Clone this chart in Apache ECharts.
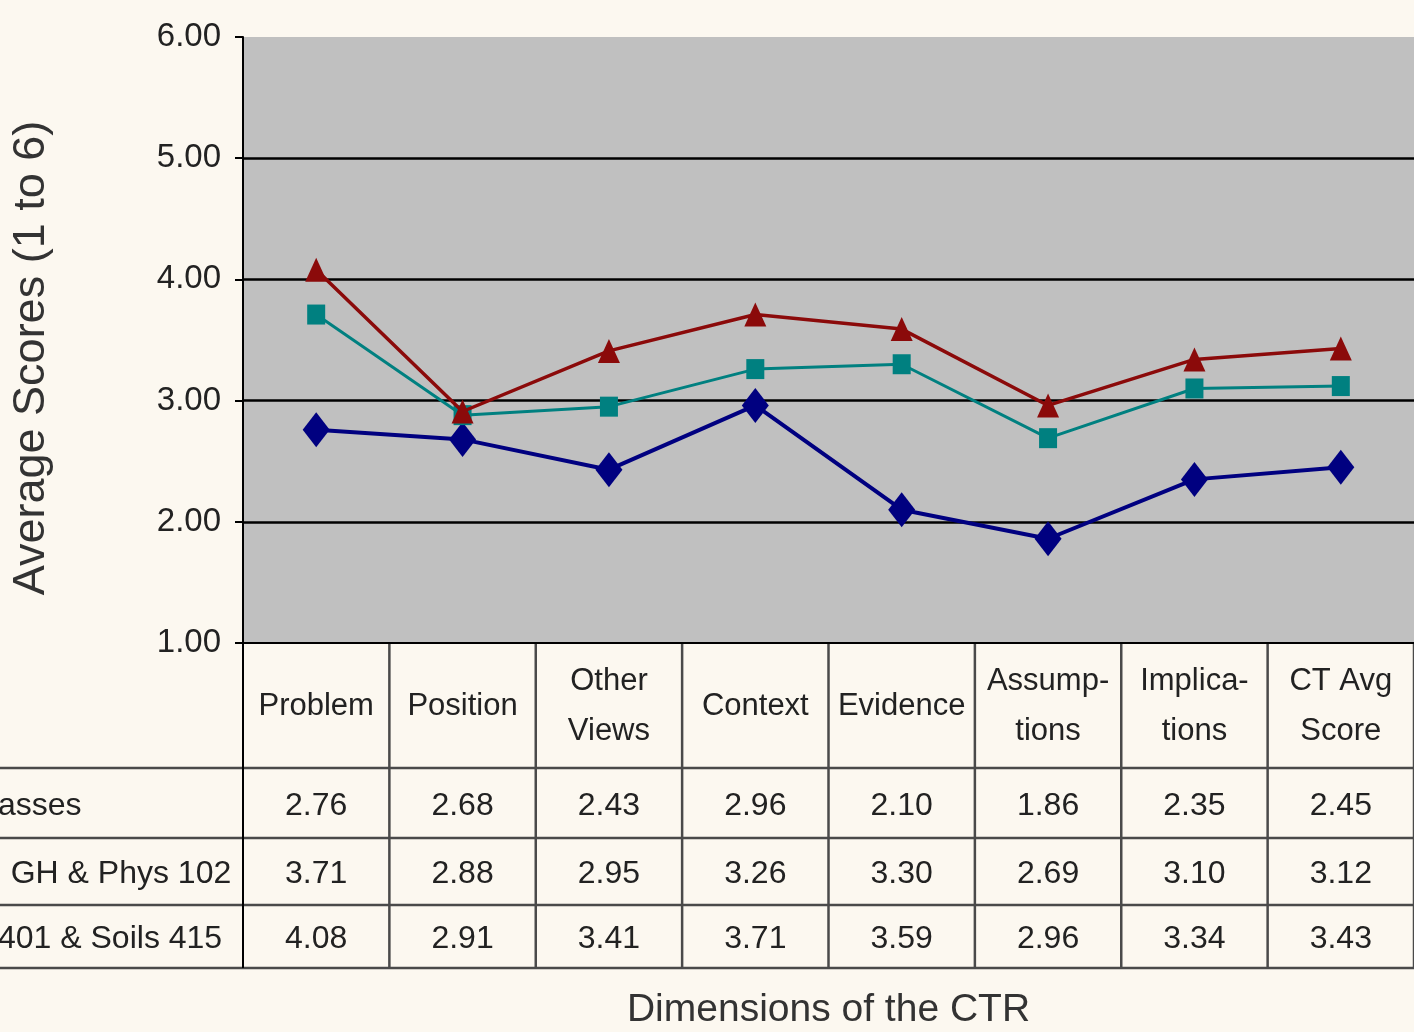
<!DOCTYPE html>
<html>
<head>
<meta charset="utf-8">
<script src="https://cdn.jsdelivr.net/npm/echarts@6/dist/echarts.min.js"></script>
<style>
html,body{margin:0;padding:0;background:#fcf8f0;}
#main{width:1414px;height:1032px;}
</style>
</head>
<body>
<div id="main"></div>
<script>
var categories = ["Problem", "Position", "Other\nViews", "Context", "Evidence", "Assump-\ntions", "Implica-\ntions", "CT Avg\nScore"];
var seriesNames = ["asses", "d GH & Phys 102", "401 & Soils 415"];
var seriesA = [2.76, 2.68, 2.43, 2.96, 2.10, 1.86, 2.35, 2.45];
var seriesB = [3.71, 2.88, 2.95, 3.26, 3.30, 2.69, 3.10, 3.12];
var seriesC = [4.08, 2.91, 3.41, 3.71, 3.59, 2.96, 3.34, 3.43];
var yTicks = [1, 2, 3, 4, 5, 6];
var yTitle = "Average Scores (1 to 6)";
var xTitle = "Dimensions of the CTR";

var FONT = "'Liberation Sans', Arial, sans-serif";
var chart = echarts.init(document.getElementById('main'), null, {renderer: 'canvas'});
var allSeries = [seriesA, seriesB, seriesC];
var colors = ['#000080', '#008080', '#8b0a0a'];
var symbols = ['diamond', 'rect', 'triangle'];
var symSizes = [[27, 35], [18, 20], [22, 24]];
var lineWidths = [4, 3, 3.5];

chart.setOption({
  backgroundColor: '#fcf8f0',
  animation: false,
  grid: {left: 243, right: 0, top: 37, height: 606, show: true, backgroundColor: '#c0c0c0', borderWidth: 0, containLabel: false, outerBoundsMode: 'none'},
  xAxis: {
    type: 'category',
    data: categories,
    boundaryGap: true,
    axisLine: {lineStyle: {color: '#000', width: 2}},
    axisTick: {show: false},
    axisLabel: {
      margin: 63, verticalAlign: 'middle', lineHeight: 50,
      fontFamily: FONT, fontSize: 31, color: '#222', interval: 0
    },
    splitLine: {show: false}
  },
  yAxis: {
    type: 'value',
    min: yTicks[0], max: yTicks[yTicks.length - 1], interval: 1,
    axisLine: {show: true, lineStyle: {color: '#000', width: 2}},
    axisTick: {show: true, length: 8, lineStyle: {color: '#000', width: 2}},
    axisLabel: {
      margin: 22, fontFamily: FONT, fontSize: 33, color: '#222',
      formatter: function (v) { return v.toFixed(2); }
    },
    splitLine: {show: true, showMaxLine: false, showMinLine: false, lineStyle: {color: '#000', width: 2.5}}
  },
  series: allSeries.map(function (d, i) {
    return {
      name: seriesNames[i],
      type: 'line',
      data: d,
      symbol: symbols[i],
      symbolSize: symSizes[i],
      lineStyle: {color: colors[i], width: lineWidths[i]},
      itemStyle: {color: colors[i]},
      z: 3 + i
    };
  })
});

// Build the data table below the plot
function buildTable() {
  var centers = categories.map(function (c, i) { return chart.convertToPixel({xAxisIndex: 0}, i); });
  var band = centers.length > 1 ? centers[1] - centers[0] : 146;
  var x0 = centers[0] - band / 2;
  var xEnd = centers[centers.length - 1] + band / 2;
  var top = chart.convertToPixel({yAxisIndex: 0}, yTicks[0]);
  var rowLines = [top + 125, top + 195, top + 262, top + 325];
  var g = [];
  var lineStyle = {stroke: '#4a4a4a', lineWidth: 2.5};
  rowLines.forEach(function (y) {
    g.push({type: 'line', shape: {x1: 0, y1: y, x2: 1414, y2: y}, style: lineStyle, silent: true});
  });
  for (var i = 0; i <= categories.length; i++) {
    var x = x0 + i * band;
    g.push({type: 'line', shape: {x1: x, y1: top, x2: x, y2: rowLines[3]}, style: {stroke: i === 0 ? '#000' : '#4a4a4a', lineWidth: i === 0 ? 2 : 2.5}, silent: true});
  }
  allSeries.forEach(function (d, r) {
    var yc = (rowLines[r] + rowLines[r + 1]) / 2 + 3;
    g.push({type: 'text', x: r === 1 ? -16 : -2, y: yc, style: {text: seriesNames[r], fontFamily: FONT, fontSize: 32, fill: '#222', textAlign: 'left', textVerticalAlign: 'middle'}, silent: true});
    d.forEach(function (v, i) {
      g.push({type: 'text', x: centers[i], y: yc, style: {text: v.toFixed(2), fontFamily: FONT, fontSize: 32, fill: '#222', textAlign: 'center', textVerticalAlign: 'middle'}, silent: true});
    });
  });
  // axis titles
  var yMid = (chart.convertToPixel({yAxisIndex: 0}, yTicks[0]) + chart.convertToPixel({yAxisIndex: 0}, yTicks[yTicks.length - 1])) / 2 + 18;
  g.push({type: 'text', x: 32, y: yMid, rotation: Math.PI / 2, style: {text: yTitle, fontFamily: FONT, fontSize: 45, fill: '#333', textAlign: 'center', textVerticalAlign: 'middle'}, silent: true});
  g.push({type: 'text', x: (x0 + xEnd) / 2, y: 1010, style: {text: xTitle, fontFamily: FONT, fontSize: 39, fill: '#333', textAlign: 'center', textVerticalAlign: 'middle'}, silent: true});
  chart.setOption({graphic: g});
}
buildTable();
</script>
</body>
</html>
